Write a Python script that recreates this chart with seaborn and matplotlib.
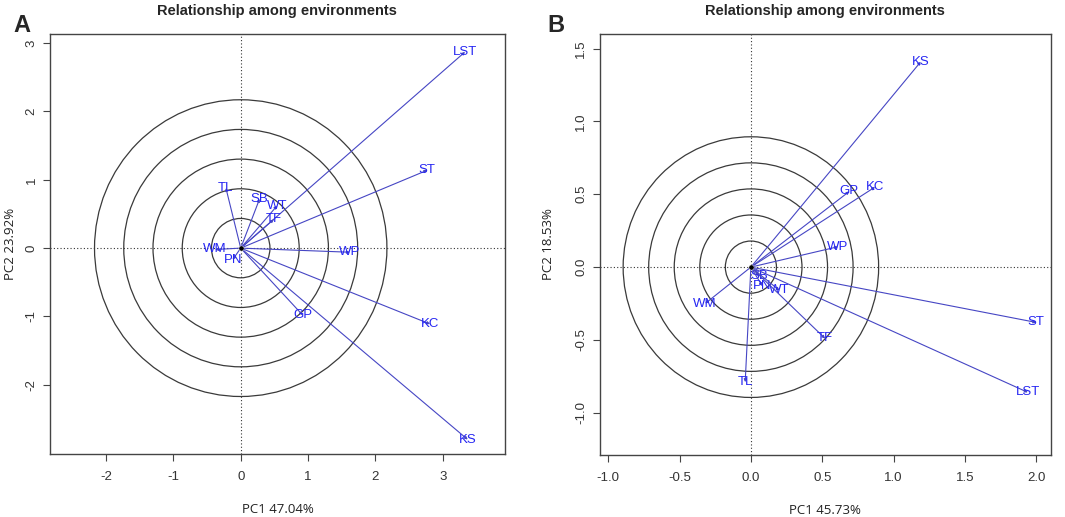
import numpy as np
import matplotlib
matplotlib.use("Agg")
import matplotlib.pyplot as plt
import seaborn as sns
from matplotlib.patches import Circle

# 数据：两个面板的环境向量坐标
labels_a = ['LST', 'ST', 'TL', 'SB', 'WT', 'TF', 'WM', 'PN', 'WP', 'GP', 'KC', 'KS']
pc1_a = [3.33, 2.77, -0.22, 0.28, 0.54, 0.49, -0.38, -0.12, 1.62, 0.92, 2.81, 3.37]
pc2_a = [2.87, 1.14, 0.88, 0.72, 0.62, 0.42, -0.02, -0.17, -0.06, -0.98, -1.11, -2.80]

labels_b = ['KS', 'GP', 'KC', 'WP', 'SB', 'PN', 'WT', 'WM', 'TF', 'TL', 'ST', 'LST']
pc1_b = [1.19, 0.69, 0.87, 0.61, 0.06, 0.08, 0.20, -0.32, 0.52, -0.04, 2.00, 1.94]
pc2_b = [1.41, 0.52, 0.55, 0.14, -0.06, -0.13, -0.16, -0.25, -0.49, -0.79, -0.38, -0.86]

radii_a = [0.434, 0.868, 1.302, 1.736, 2.17]
radii_b = [0.179, 0.358, 0.537, 0.716, 0.895]

xlab_a, ylab_a = 'PC1 47.04%', 'PC2 23.92%'
xlab_b, ylab_b = 'PC1 45.73%', 'PC2 18.53%'
ticks_a_x = [-2, -1, 0, 1, 2, 3]
ticks_a_y = [-2, -1, 0, 1, 2, 3]
ticks_b_x = [-1.0, -0.5, 0.0, 0.5, 1.0, 1.5, 2.0]
ticks_b_y = [-1.0, -0.5, 0.0, 0.5, 1.0, 1.5]

sns.set_style("white")
plt.rcParams['font.family'] = ['Liberation Sans', 'DejaVu Sans']

LINE_COL = '#4646c4'
TEXT_COL = '#2626f2'


def draw_panel(ax, labels, xs, ys, radii, xlim, ylim, xt, yt, fmt, xlab, ylab, xl_pos, yl_pos):
    """绘制环境关系双标图"""
    ax.set_xlim(*xlim)
    ax.set_ylim(*ylim)
    # 同心圆
    for r in radii:
        ax.add_patch(Circle((0, 0), r, fill=False, ec='#3a3a3a', lw=0.9))
    # 虚线坐标轴
    ax.axhline(0, color='#333333', ls=(0, (1, 2)), lw=0.8)
    ax.axvline(0, color='#333333', ls=(0, (1, 2)), lw=0.8)
    # 向量
    for lab, x, y in zip(labels, xs, ys):
        ax.annotate('', xy=(x, y), xytext=(0, 0),
                    arrowprops=dict(arrowstyle='-|>', color=LINE_COL, lw=0.8,
                                    mutation_scale=4, shrinkA=0, shrinkB=0))
        ax.text(x, y, lab, color=TEXT_COL, fontsize=9.5, ha='center', va='center')
    sns.scatterplot(x=[0], y=[0], ax=ax, color='black', s=14, zorder=5, legend=False)
    ax.set_xticks(xt)
    ax.set_yticks(yt)
    ax.set_xticklabels([fmt.format(v) for v in xt], fontsize=9.5, color='#333333')
    ax.set_yticklabels([fmt.format(v) for v in yt], fontsize=9.5, color='#333333',
                       rotation=90, va='center')
    ax.tick_params(bottom=True, left=True, direction='out', length=5, width=0.8,
                   colors='#444444', labelcolor='#333333')
    ax.tick_params(axis='x', pad=7)
    ax.tick_params(axis='y', pad=4)
    for sp in ax.spines.values():
        sp.set_color('#444444')
        sp.set_linewidth(1.0)
    ax.set_xlabel(xlab, fontsize=9.5, color='#222222',
                  family=['Open Sans', 'DejaVu Sans'], va='center')
    ax.set_ylabel(ylab, fontsize=9.5, color='#222222',
                  family=['Open Sans', 'DejaVu Sans'], va='center')
    ax.xaxis.set_label_coords(0.5, xl_pos)
    ax.yaxis.set_label_coords(yl_pos, 0.5)
    ax.set_title('Relationship among environments', fontsize=10.5,
                 fontweight='bold', pad=14)


fig = plt.figure(figsize=(10.65, 5.17), dpi=100)
ax_a = fig.add_axes([0.047, 0.122, 0.427, 0.812])
ax_b = fig.add_axes([0.563, 0.12, 0.4235, 0.814])

draw_panel(ax_a, labels_a, pc1_a, pc2_a, radii_a, (-2.83, 3.92), (-3.01, 3.13),
           ticks_a_x, ticks_a_y, '{:g}', xlab_a, ylab_a, -0.133, -0.088)
draw_panel(ax_b, labels_b, pc1_b, pc2_b, radii_b, (-1.06, 2.10), (-1.29, 1.60),
           ticks_b_x, ticks_b_y, '{:.1f}', xlab_b, ylab_b, -0.131, -0.113)

fig.text(0.013, 0.972, 'A', fontsize=17, fontweight='bold', va='top')
fig.text(0.514, 0.972, 'B', fontsize=17, fontweight='bold', va='top')

fig.savefig('out.png', dpi=100)
